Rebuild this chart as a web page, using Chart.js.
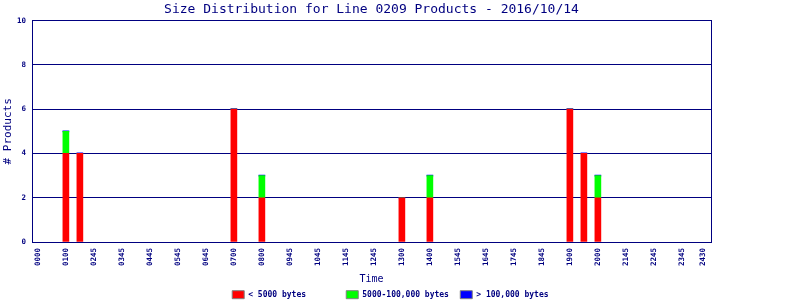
<!DOCTYPE html>
<html>
<head>
<meta charset="utf-8">
<script src="https://cdn.jsdelivr.net/npm/chart.js@4"></script>
<style>
  body { margin: 0; background: #fff; }
  #wrap { width: 800px; height: 300px; }
</style>
</head>
<body>
<div id="wrap"><canvas id="sizeChart" width="800" height="300"></canvas></div>
<script>
// hours of the day where products arrived (0130 = 1.5 etc.)
const timeValues = [1, 1.5, 7, 8, 13, 14, 19, 19.5, 20];
const smallCounts = [4, 4, 6, 2, 2, 2, 6, 4, 2];   // < 5000 bytes
const mediumCounts = [1, 0, 0, 1, 0, 1, 0, 0, 1];  // 5000-100,000 bytes
const largeCounts = [0, 0, 0, 0, 0, 0, 0, 0, 0];   // > 100,000 bytes

const seriesNames = ['< 5000 bytes', '5000-100,000 bytes', '> 100,000 bytes'];
const tickPositions = [0, 1, 2, 3, 4, 5, 6, 7, 8, 9, 10, 11, 12, 13, 14, 15, 16, 17, 18, 19, 20, 21, 22, 23, 23.75];
const tickLabels = ['0000', '0100', '0245', '0345', '0445', '0545', '0645', '0700', '0800', '0945',
    '1045', '1145', '1245', '1300', '1400', '1545', '1645', '1745', '1845', '1900', '2000',
    '2145', '2245', '2345', '2430'];
const yTicks = [0, 2, 4, 6, 8, 10];

const navy = '#000080';
const mono = 'DejaVu Sans Mono';

function toPoints(values) {
    return timeValues.map((t, i) => ({ x: t, y: values[i] }));
}

const ctx = document.getElementById('sizeChart').getContext('2d');

new Chart(ctx, {
    type: 'bar',
    data: {
        datasets: [
            { label: seriesNames[0], data: toPoints(smallCounts), backgroundColor: '#ff0000' },
            { label: seriesNames[1], data: toPoints(mediumCounts), backgroundColor: '#00ff00' },
            { label: seriesNames[2], data: toPoints(largeCounts), backgroundColor: '#0000ff', minBarLength: 1 }
        ]
    },
    options: {
        responsive: false,
        animation: false,
        layout: { padding: 0 },
        datasets: { bar: { barThickness: 6, borderWidth: 0 } },
        plugins: {
            tooltip: { enabled: false },
            title: {
                display: true,
                text: 'Size Distribution for Line 0209 Products - 2016/10/14',
                color: navy,
                fullSize: false,
                font: { family: mono, size: 13, weight: 'normal' },
                padding: { top: 2, bottom: 3 }
            },
            legend: {
                position: 'bottom',
                maxHeight: 11,
                labels: {
                    boxWidth: 12,
                    boxHeight: 8,
                    padding: 1.7,
                    color: navy,
                    font: { family: mono, size: 8, weight: 'bold' },
                    // monospace padding gives each entry the fixed column width of the original
                    generateLabels: chart => chart.data.datasets.map((ds, i) => ({
                        text: ds.label.padEnd(i < 2 ? 20 : 19),
                        fillStyle: ds.backgroundColor,
                        strokeStyle: '#808080',
                        lineWidth: 1,
                        fontColor: navy,
                        datasetIndex: i
                    }))
                }
            }
        },
        scales: {
            x: {
                type: 'linear',
                stacked: true,
                offset: false,
                min: -0.21,
                max: 24.04,
                grid: { display: false, drawTicks: false, offset: false },
                border: { color: navy, width: 1 },
                afterBuildTicks: axis => { axis.ticks = tickPositions.map(v => ({ value: v })); },
                afterFit: axis => { axis.height = 47; },
                ticks: {
                    autoSkip: false,
                    minRotation: 90,
                    maxRotation: 90,
                    padding: 6,
                    color: navy,
                    font: { family: mono, size: 7.5, weight: 'bold' },
                    callback: (value, index) => tickLabels[index]
                },
                title: {
                    display: true,
                    text: 'Time',
                    color: navy,
                    font: { family: mono, size: 10, weight: 'normal' },
                    padding: { top: 2, bottom: 3.5 }
                }
            },
            y: {
                stacked: true,
                min: 0,
                max: 10,
                afterBuildTicks: axis => { axis.ticks = yTicks.map(v => ({ value: v })); },
                afterFit: axis => { axis.width = 32; },
                grid: { color: navy, lineWidth: 1, drawTicks: false },
                border: { color: navy, width: 1 },
                ticks: {
                    padding: 6,
                    color: navy,
                    font: { family: mono, size: 7.5, weight: 'bold' }
                },
                title: {
                    display: true,
                    text: '# Products',
                    color: navy,
                    font: { family: mono, size: 11, weight: 'normal' },
                    padding: { top: 2, bottom: 0 }
                }
            },
            // empty right axis: only its border, closes the plot frame
            y2: {
                position: 'right',
                grid: { display: false, drawTicks: false },
                ticks: { display: false },
                border: { color: navy, width: 1 },
                afterFit: axis => { axis.width = 89; }
            }
        }
    }
});
</script>
</body>
</html>
